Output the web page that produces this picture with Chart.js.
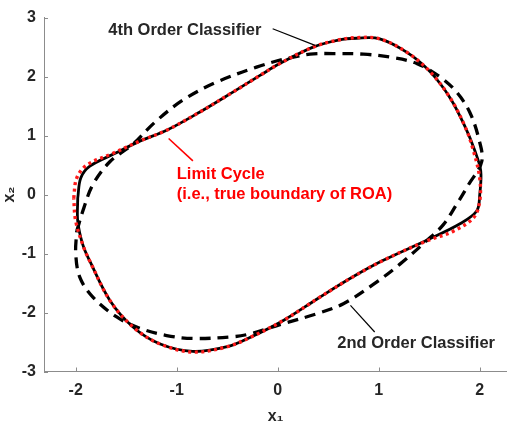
<!DOCTYPE html>
<html>
<head>
<meta charset="utf-8">
<script src="https://cdn.jsdelivr.net/npm/chart.js@4.4.1/dist/chart.umd.min.js"></script>
<style>
  html, body { margin: 0; padding: 0; background: #fff; overflow: hidden; }
  #wrap { width: 507px; height: 426px; position: relative; }
</style>
</head>
<body>
<div id="wrap"><canvas id="roaChart"></canvas></div>
<script>
// limit cycle (true boundary of ROA)
const limitX = [-2.02, -1.99, -1.89, -1.63, -1.36, -1.10, -0.77, -0.44, -0.175, 0.02, 0.35, 0.60, 0.78, 1.01, 1.28, 1.51, 1.71, 1.86, 1.94, 2.00, 2.00, 1.94, 1.74, 1.47, 1.04, 0.72, 0.39, 0.06, -0.27, -0.50, -0.84, -1.17, -1.43, -1.66, -1.86, -1.92, -2.00, -2.02];
const limitY = [-0.06, 0.28, 0.50, 0.70, 0.91, 1.09, 1.40, 1.74, 2.02, 2.22, 2.50, 2.62, 2.66, 2.64, 2.41, 2.08, 1.63, 1.13, 0.73, 0.28, -0.11, -0.39, -0.62, -0.79, -1.12, -1.42, -1.77, -2.13, -2.42, -2.58, -2.67, -2.53, -2.25, -1.80, -1.13, -0.90, -0.45, -0.06];

// 4th order classifier
const fourthX = [-1.98, -1.95, -1.86, -1.62, -1.36, -1.10, -0.77, -0.44, -0.175, 0.02, 0.35, 0.60, 0.78, 1.01, 1.28, 1.51, 1.71, 1.86, 1.95, 2.01, 2.00, 1.97, 1.80, 1.47, 1.04, 0.72, 0.39, 0.06, -0.27, -0.50, -0.84, -1.17, -1.43, -1.66, -1.86, -1.93, -1.98, -1.98];
const fourthY = [-0.06, 0.28, 0.48, 0.69, 0.91, 1.09, 1.40, 1.74, 2.02, 2.22, 2.50, 2.62, 2.65, 2.64, 2.41, 2.08, 1.63, 1.13, 0.75, 0.40, 0.00, -0.28, -0.50, -0.78, -1.12, -1.42, -1.77, -2.13, -2.42, -2.58, -2.66, -2.53, -2.25, -1.80, -1.13, -0.85, -0.45, -0.06];

// 2nd order classifier
const secondX = [-1.99, -1.92, -1.83, -1.66, -1.43, -1.22, -0.94, -0.60, -0.21, 0.05, 0.32, 0.55, 0.85, 1.11, 1.38, 1.61, 1.77, 1.90, 1.99, 2.02, 1.89, 1.77, 1.64, 1.47, 1.21, 0.95, 0.65, 0.39, 0.05, -0.27, -0.44, -0.84, -1.10, -1.36, -1.59, -1.83, -1.96, -2.00, -1.99];
const secondY = [-0.62, -0.23, 0.17, 0.56, 0.86, 1.22, 1.60, 1.91, 2.16, 2.29, 2.38, 2.39, 2.38, 2.33, 2.22, 1.99, 1.74, 1.40, 0.95, 0.56, 0.17, -0.17, -0.51, -0.79, -1.18, -1.52, -1.85, -2.02, -2.19, -2.36, -2.41, -2.44, -2.39, -2.27, -2.08, -1.74, -1.40, -1.00, -0.62];

const xTicks = [-2, -1, 0, 1, 2];
const yTicks = [-3, -2, -1, 0, 1, 2, 3];

// text notes with leader lines (data coordinates)
const notes = [
  { text: '4th Order Classifier', x: -0.92, y: 2.78, align: 'center', color: '#262626' },
  { text: 'Limit Cycle', x: -1.0, y: 0.34, align: 'left', color: '#ff0000' },
  { text: '(i.e., true boundary of ROA)', x: -1.0, y: 0.0, align: 'left', color: '#ff0000' },
  { text: '2nd Order Classifier', x: 0.59, y: -2.52, align: 'left', color: '#262626' }
];
const leaders = [
  { from: [-0.05, 2.81], to: [0.37, 2.53], color: '#000000', width: 1.2 },
  { from: [-1.08, 0.95], to: [-0.84, 0.57], color: '#ff0000', width: 1.6 },
  { from: [0.72, -1.88], to: [0.96, -2.33], color: '#000000', width: 1.2 }
];

function toPoints(xs, ys) {
  return xs.map((x, i) => ({ x: x, y: ys[i] }));
}

const FONT = '"Liberation Sans", Arial, sans-serif';

const extras = {
  id: 'extras',
  afterDraw(chart) {
    const ctx = chart.ctx;
    const sx = chart.scales.x, sy = chart.scales.y;
    const area = chart.chartArea;
    ctx.save();
    // inward tick marks
    ctx.strokeStyle = '#8c8c8c';
    ctx.lineWidth = 1;
    xTicks.forEach(v => {
      const px = Math.round(sx.getPixelForValue(v)) + 0.5;
      ctx.beginPath(); ctx.moveTo(px, area.bottom); ctx.lineTo(px, area.bottom - 4); ctx.stroke();
    });
    yTicks.forEach(v => {
      const py = Math.round(sy.getPixelForValue(v)) + 0.5;
      ctx.beginPath(); ctx.moveTo(area.left, py); ctx.lineTo(area.left + 4, py); ctx.stroke();
    });
    // leader lines
    leaders.forEach(l => {
      ctx.strokeStyle = l.color;
      ctx.lineWidth = l.width;
      ctx.beginPath();
      ctx.moveTo(sx.getPixelForValue(l.from[0]), sy.getPixelForValue(l.from[1]));
      ctx.lineTo(sx.getPixelForValue(l.to[0]), sy.getPixelForValue(l.to[1]));
      ctx.stroke();
    });
    // labels
    ctx.font = 'bold 16.5px ' + FONT;
    ctx.textBaseline = 'middle';
    notes.forEach(n => {
      ctx.fillStyle = n.color;
      ctx.textAlign = n.align;
      ctx.fillText(n.text, sx.getPixelForValue(n.x), sy.getPixelForValue(n.y));
    });
    ctx.restore();
  }
};

new Chart(document.getElementById('roaChart'), {
  type: 'scatter',
  data: {
    datasets: [
      {
        label: 'Limit Cycle',
        data: toPoints(limitX, limitY),
        showLine: true,
        borderColor: '#ff1a1a',
        borderWidth: 3.4,
        borderDash: [3, 3.5],
        tension: 0.35,
        pointRadius: 0,
        order: 0
      },
      {
        label: '4th Order Classifier',
        data: toPoints(fourthX, fourthY),
        showLine: true,
        borderColor: '#000000',
        borderWidth: 2.8,
        tension: 0.35,
        pointRadius: 0,
        order: 1
      },
      {
        label: '2nd Order Classifier',
        data: toPoints(secondX, secondY),
        showLine: true,
        borderColor: '#000000',
        borderWidth: 3.3,
        borderDash: [11, 7],
        tension: 0.35,
        pointRadius: 0,
        order: 2
      }
    ]
  },
  options: {
    responsive: true,
    maintainAspectRatio: false,
    animation: false,
    layout: { padding: { top: 15, right: 0, left: 0, bottom: 0 } },
    plugins: {
      legend: { display: false },
      tooltip: { enabled: false }
    },
    scales: {
      x: {
        type: 'linear',
        min: -2.314,
        max: 2.27,
        afterBuildTicks: s => { s.ticks = xTicks.map(v => ({ value: v })); },
        afterFit: s => { s.height = 54.5; },
        grid: { display: true, drawOnChartArea: false, drawTicks: false },
        border: { display: true, color: '#8c8c8c', width: 1 },
        ticks: { padding: 9, color: '#262626', font: { family: FONT, size: 16, weight: 'bold' } },
        title: { display: true, text: 'x₁', color: '#262626', padding: { top: 0, bottom: 0 }, font: { family: FONT, size: 16, weight: 'bold' } }
      },
      y: {
        type: 'linear',
        min: -3,
        max: 3,
        afterBuildTicks: s => { s.ticks = yTicks.map(v => ({ value: v })); },
        afterFit: s => { s.width = 44; },
        grid: { display: true, drawOnChartArea: false, drawTicks: false },
        border: { display: true, color: '#8c8c8c', width: 1 },
        ticks: { padding: 8, color: '#262626', font: { family: FONT, size: 16, weight: 'bold' } },
        title: { display: true, text: 'x₂', color: '#262626', padding: { top: 0, bottom: 0 }, font: { family: FONT, size: 16, weight: 'bold' } }
      }
    }
  },
  plugins: [extras]
});
</script>
</body>
</html>
